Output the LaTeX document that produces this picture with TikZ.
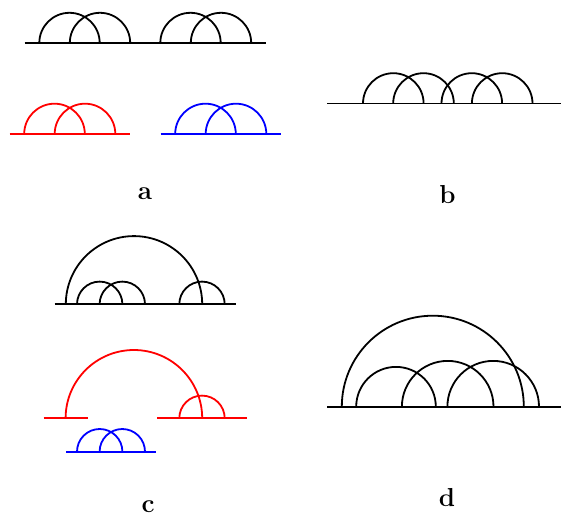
\documentclass[tikz,border=0pt]{standalone}
\newcommand\hemi[4][]{\draw[#1] ({#2-#4},-#3) arc[start angle=180,end angle=0,radius=#4];}
\tikzset{
  lbl/.style={anchor=base,inner sep=0pt,font=\fontsize{26}{30}\selectfont\bfseries}
}
\begin{document}
\begin{tikzpicture}[x=1pt,y=1pt,line width=1.8pt]
\useasboundingbox (0,0) rectangle (561,-516);
% ---- panel a ----
\draw (24.5,-43) -- (265.5,-43);
\hemi{69.5}{43}{30.2}
\hemi{100}{43}{30.2}
\hemi{190.5}{43}{30.2}
\hemi{221}{43}{30.2}
\draw[red] (9.5,-134) -- (129.5,-134);
\hemi[red]{54.5}{134}{30.3}
\hemi[red]{85}{134}{30.3}
\draw[blue] (160.5,-134) -- (281,-134);
\hemi[blue]{205.5}{134}{30.3}
\hemi[blue]{236}{134}{30.3}
\node[lbl] (la) at (145,-199) {a};
% ---- panel b ----
\draw (327,-103.5) -- (561,-103.5);
\hemi{393.3}{103.5}{30.3}
\hemi{423.5}{103.5}{30.3}
\hemi{471.8}{103.5}{30.3}
\hemi{502.2}{103.5}{30.3}
\node[lbl] (lb) at (447.5,-203) {b};
% ---- panel c ----
\draw (54.5,-304.3) -- (235.5,-304.3);
\hemi{134}{304.3}{68.2}
\hemi{99.7}{304.3}{22.7}
\hemi{122.3}{304.3}{22.7}
\hemi{202}{304.3}{22.7}
\draw[red] (43.5,-418.3) -- (88.3,-418.3);
\draw[red] (157,-418.3) -- (247.3,-418.3);
\hemi[red]{133.9}{418.3}{68.3}
\hemi[red]{202}{418.3}{22.7}
\draw[blue] (66,-451.7) -- (156,-451.7);
\hemi[blue]{99.7}{451.7}{22.7}
\hemi[blue]{122.3}{451.7}{22.7}
\node[lbl] (lc) at (148,-512) {c};
% ---- panel d ----
\draw (327,-406.7) -- (561,-406.7);
\hemi{432.8}{406.7}{91}
\hemi{396}{406.7}{39.8}
\hemi{447.7}{406.7}{45.8}
\hemi{493.2}{406.7}{45.8}
\node[lbl] (ld) at (447,-506) {d};
\end{tikzpicture}
\end{document}
